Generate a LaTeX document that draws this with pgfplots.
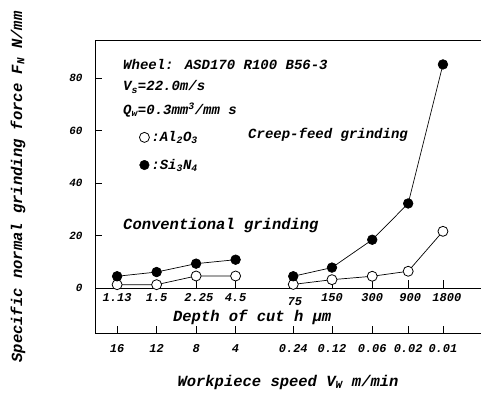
\documentclass[border=0pt]{standalone}
\usepackage{pgfplots}
\pgfplotsset{compat=1.18}
\usepackage{fontspec}
\setmainfont{Liberation Mono}

% normal grinding force F_N [N/mm]
% conventional grinding: depth of cut 1.13, 1.5, 2.25, 4.5 um  (x = 1..4)
% creep-feed grinding:   depth of cut 75, 150, 300, 900, 1800 um
\pgfplotstableread{
x     al    si
1     1.4   4.6
2     1.4   6.2
3     4.7   9.4
4     4.7   10.9
}\conventional
\pgfplotstableread{
x     al    si
5.46  1.5   4.6
6.44  3.3   7.9
7.46  4.6   18.5
8.37  6.5   32.3
9.25  21.7  85.2
}\creepfeed

\newcommand{\lbl}{\bfseries\itshape}

\begin{document}
\begin{tikzpicture}
\useasboundingbox (0,0) rectangle (481pt,-392pt);
\begin{axis}[
  at={(95pt,-40pt)}, anchor=north west,
  scale only axis, width=389pt, height=293pt,
  xmin=0.44, xmax=10.29, ymin=-17, ymax=94.5,
  axis line style={line width=0.8pt},
  xtick={1,2,3,4,5.46,6.44,7.46,8.37,9.25},
  xticklabels={16,12,8,4,0.24,0.12,0.06,0.02,0.01},
  ytick={0,20,40,60,80},
  xtick pos=left, ytick pos=left,
  tick align=inside, major tick length=7pt,
  tick style={line width=0.7pt, black},
  /pgf/number format/assume math mode=true,
  xticklabel style={font=\fontsize{12}{12}\selectfont\lbl, yshift=-8pt},
  yticklabel style={font=\fontsize{11}{11}\selectfont\lbl, xshift=-9pt},
  clip=false,
  legend style={at={(axis cs:1.56,60.5)}, anchor=north west, draw=none, fill=none,
    font=\fontsize{14}{14}\selectfont\lbl, row sep=12pt, inner sep=0pt},
  legend cell align=left,
]
% zero line and its tick marks
\draw[line width=0.8pt] (axis cs:0.44,0) -- (axis cs:10.29,0);
\pgfplotsinvokeforeach{1,2,3,4,5.46,6.44,7.46,8.37,9.25}{
  \draw[line width=0.7pt] (axis cs:#1,0) -- (axis cs:#1,3);
}

\addlegendimage{only marks, mark=*, mark size=5pt,
  mark options={fill=white, draw=black, line width=0.8pt}}
\addlegendentry{:Al\textsubscript{2}O\textsubscript{3}}
\addlegendimage{only marks, mark=*, mark size=4.8pt, mark options={fill=black}}
\addlegendentry{:Si\textsubscript{3}N\textsubscript{4}}

\addplot[black, line width=0.7pt, mark=*, mark size=5pt,
  mark options={fill=white, draw=black, line width=0.8pt}, forget plot]
  table[x=x, y=al] {\conventional};
\addplot[black, line width=0.7pt, mark=*, mark size=4.8pt,
  mark options={fill=black}, forget plot]
  table[x=x, y=si] {\conventional};
\addplot[black, line width=0.7pt, mark=*, mark size=5pt,
  mark options={fill=white, draw=black, line width=0.8pt}, forget plot]
  table[x=x, y=al] {\creepfeed};
\addplot[black, line width=0.7pt, mark=*, mark size=4.8pt,
  mark options={fill=black}, forget plot]
  table[x=x, y=si] {\creepfeed};

% depth of cut labels on the zero line
\begin{scope}[font=\fontsize{12}{12}\selectfont\lbl]
\node at (axis cs:1,-3.4) {1.13};
\node at (axis cs:2,-3.4) {1.5};
\node at (axis cs:3.07,-3.4) {2.25};
\node at (axis cs:4,-3.4) {4.5};
\node at (axis cs:5.5,-5.2) {75};
\node at (axis cs:6.44,-3.4) {150};
\node at (axis cs:7.46,-3.4) {300};
\node at (axis cs:8.42,-3.4) {900};
\node at (axis cs:9.35,-3.4) {1800};
\end{scope}
\node[font=\fontsize{15.5}{15.5}\selectfont\lbl] at (axis cs:4.42,-11.0) {Depth of cut h μm};
\end{axis}

% annotations
\begin{scope}[font=\fontsize{14}{14}\selectfont\lbl, inner sep=0pt]
\node[anchor=west] at (123pt,-65pt) {Wheel: ASD170 R100 B56-3};
\node[anchor=west] at (123pt,-87pt) {V\textsubscript{s}=22.0m/s};
\node[anchor=west] at (123pt,-110pt) {Q\textsubscript{w}=0.3mm\textsuperscript{3}/mm s};
\node[anchor=west] at (248pt,-135pt) {Creep-feed grinding};
\end{scope}
\node[anchor=west, inner sep=0pt, font=\fontsize{15.5}{15.5}\selectfont\lbl] at (123pt,-226pt) {Conventional grinding};
\node[rotate=90, inner sep=0pt, font=\fontsize{15.5}{15.5}\selectfont\lbl] at (18pt,-187pt)
  {Specific normal grinding force F\textsubscript{N} N/mm};
\node[inner sep=0pt, font=\fontsize{15.5}{15.5}\selectfont\lbl] at (288pt,-382pt)
  {Workpiece speed V\textsubscript{W} m/min};
\end{tikzpicture}
\end{document}
